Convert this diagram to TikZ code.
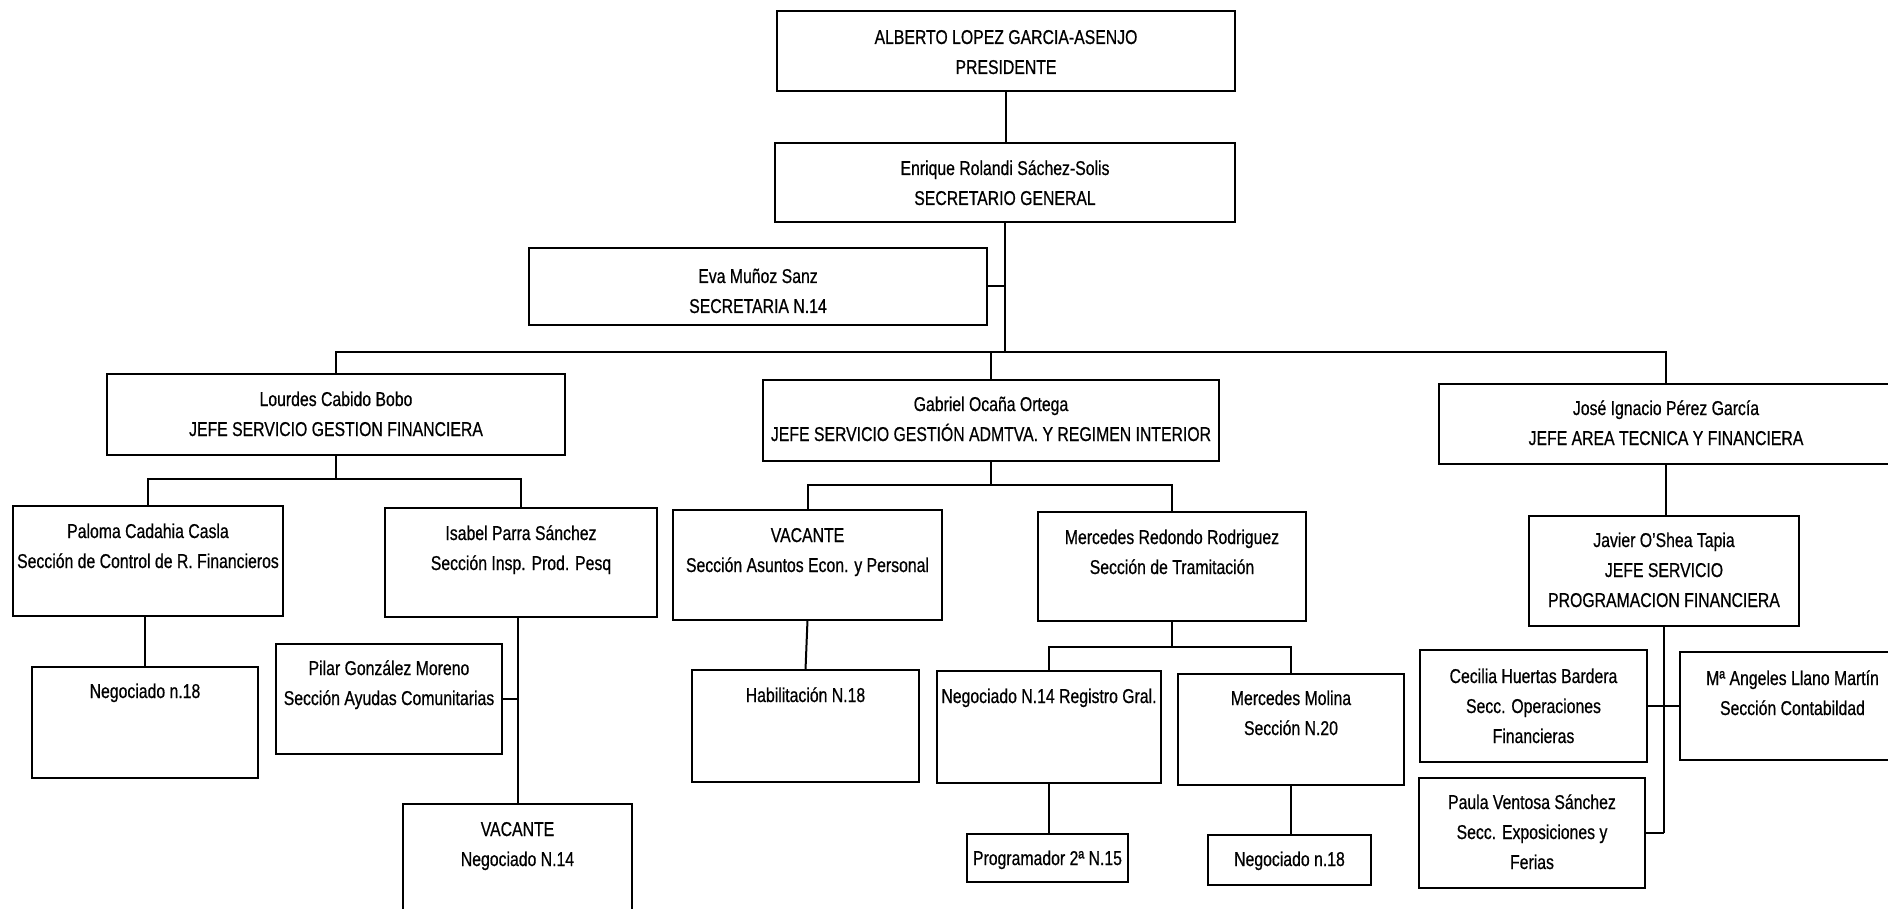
\documentclass[tikz,border=0pt]{standalone}
\usepackage{fontspec}
\setmainfont{Liberation Sans}[FakeStretch=0.79,FakeBold=0.6]
\tikzset{
  orgbox/.style={draw=black, line width=2.2pt, inner sep=0pt, outer sep=0pt, fill=white,
    font=\fontsize{20}{30}\selectfont},
  link/.style={draw=black, line width=2pt}
}
\newcommand\orgbox[7]{%
  \node[orgbox] (#1) at ({(#2+#4)/2},{(#3+#5)/2})
    {\parbox[c][\dimexpr#5pt-#3pt\relax][t]{\dimexpr#4pt-#2pt\relax}{\centering\rule{0pt}{#6pt}#7\par}};}
\begin{document}
\begin{tikzpicture}[x=1pt,y=-1pt]
\fill[white] (0,0) rectangle (1888,909);
\useasboundingbox (0,0) rectangle (1888,909);
% top
\orgbox{P}{777}{11}{1235}{91}{33}{ALBERTO LOPEZ GARCIA-ASENJO\\PRESIDENTE}
\orgbox{S}{775}{143}{1235}{222}{32}{Enrique Rolandi Sáchez-Solis\\SECRETARIO GENERAL}
\orgbox{E}{529}{248}{987}{325}{35}{Eva Muñoz Sanz\\SECRETARIA N.14}
% level 3
\orgbox{L}{107}{374}{565}{455}{32}{Lourdes Cabido Bobo\\JEFE SERVICIO GESTION FINANCIERA}
\orgbox{G}{763}{380}{1219}{461}{31}{Gabriel Ocaña Ortega\\JEFE SERVICIO GESTIÓN ADMTVA. Y REGIMEN INTERIOR}
\orgbox{J}{1439}{384}{1893}{464}{31}{José Ignacio Pérez García\\JEFE AREA TECNICA Y FINANCIERA}
% Lourdes branch
\orgbox{Pa}{13}{506}{283}{616}{32}{Paloma Cadahia Casla\\Sección de Control de R. Financieros}
\orgbox{I}{385}{508}{657}{617}{32}{Isabel Parra Sánchez\\Sección Insp. Prod. Pesq}
\orgbox{NA}{32}{667}{258}{778}{31}{Negociado n.18}
\orgbox{Pi}{276}{644}{502}{754}{31}{Pilar González Moreno\\Sección Ayudas Comunitarias}
\orgbox{VA}{403}{804}{632}{940}{32}{VACANTE\\Negociado N.14}
% Gabriel branch
\orgbox{VB}{673}{510}{942}{620}{32}{VACANTE\\Sección Asuntos Econ. y Personal}
\orgbox{MR}{1038}{512}{1306}{621}{32}{Mercedes Redondo Rodriguez\\Sección de Tramitación}
\orgbox{H}{692}{670}{919}{782}{32}{Habilitación N.18}
\orgbox{NG}{937}{671}{1161}{783}{32}{Negociado N.14 Registro Gral.}
\orgbox{MM}{1178}{674}{1404}{785}{31}{Mercedes Molina\\Sección N.20}
\orgbox{PR}{967}{834}{1128}{882}{31}{Programador 2ª N.15}
\orgbox{NB}{1208}{835}{1371}{885}{31}{Negociado n.18}
% José branch
\orgbox{JV}{1529}{516}{1799}{626}{31}{Javier O'Shea Tapia\\JEFE SERVICIO\\PROGRAMACION FINANCIERA}
\orgbox{C}{1420}{650}{1647}{762}{33}{Cecilia Huertas Bardera\\Secc. Operaciones\\Financieras}
\orgbox{MA}{1680}{652}{1905}{760}{33}{Mª Angeles Llano Martín\\Sección Contabildad}
\orgbox{PV}{1419}{778}{1645}{888}{31}{Paula Ventosa Sánchez\\Secc. Exposiciones y\\Ferias}
% connectors
\coordinate (bus) at (0,352);
\coordinate (busL) at (0,479);
\coordinate (busG) at (0,485);
\coordinate (busM) at (0,647);
\path[link] (P.south) -- (P.south |- S.north);
\path[link] (S.south) -- (S.south |- bus);
\path[link] (E.east) -- (E.east -| S.south);
\path[link] (L.north) -- (L.north |- bus) -- (J.north |- bus) -- (J.north);
\path[link] (G.north) -- (G.north |- bus);
% Lourdes
\path[link] (L.south) -- (L.south |- busL);
\path[link] (Pa.north) -- (Pa.north |- busL) -- (I.north |- busL) -- (I.north);
\path[link] (Pa.south) -- (Pa.south -| NA.north) -- (NA.north);
\path[link] (VA.north |- I.south) -- (VA.north);
\path[link] (Pi.east) -- (Pi.east -| VA.north);
% Gabriel
\path[link] (G.south) -- (G.south |- busG);
\path[link] (VB.north) -- (VB.north |- busG) -- (MR.north |- busG) -- (MR.north);
\path[link] (VB.south) -- (H.north);
\path[link] (MR.south) -- (MR.south |- busM);
\path[link] (NG.north) -- (NG.north |- busM) -- (MM.north |- busM) -- (MM.north);
\path[link] (NG.south) -- (NG.south |- PR.north);
\path[link] (MM.south) -- (MM.south |- NB.north);
% José
\path[link] (J.south) -- (J.south |- JV.north);
\path[link] (JV.south) -- (JV.south |- PV.east);
\path[link] (C.east) -- (MA.west);
\path[link] (PV.east) -- (PV.east -| JV.south);
\end{tikzpicture}
\end{document}
